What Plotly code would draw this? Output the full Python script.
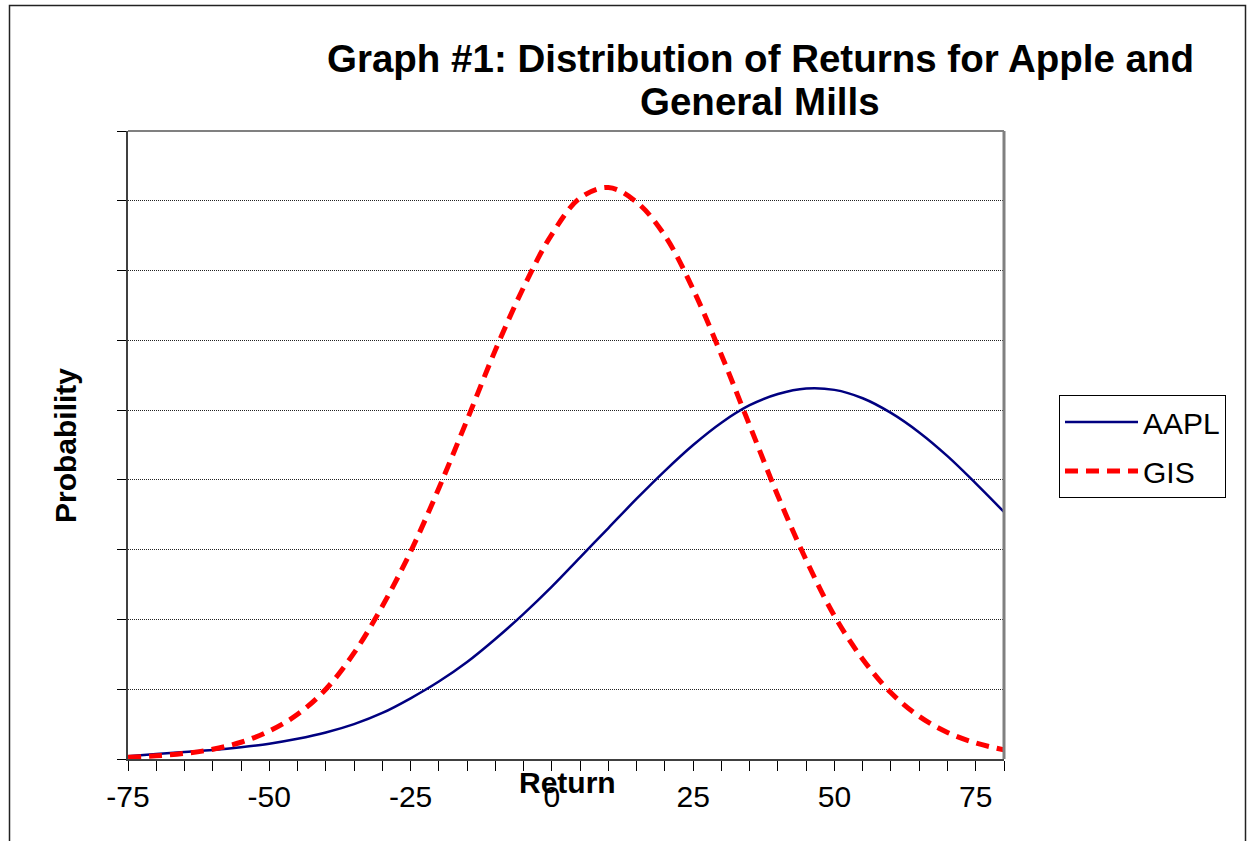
import plotly.graph_objects as go

# Return values (x axis)
returns = [-75, -70, -65, -60, -55, -50, -45, -40, -35, -30, -25, -20, -15, -10, -5, 0,
           5, 10, 15, 20, 25, 30, 35, 40, 45, 50, 55, 60, 65, 70, 75, 80]

# Probability (in gridline units)
aapl = [0.04, 0.07, 0.10, 0.13, 0.17, 0.22, 0.29, 0.38, 0.50, 0.66, 0.87, 1.11, 1.39, 1.72, 2.08, 2.47,
        2.89, 3.31, 3.73, 4.13, 4.50, 4.82, 5.07, 5.23, 5.31, 5.29, 5.17, 4.96, 4.68, 4.34, 3.95, 3.54]
gis = [0.025, 0.045, 0.08, 0.14, 0.24, 0.40, 0.64, 1.00, 1.52, 2.19, 2.97, 3.88, 4.86, 5.86, 6.76, 7.52,
       8.04, 8.19, 7.98, 7.50, 6.73, 5.79, 4.78, 3.77, 2.85, 2.05, 1.43, 0.95, 0.61, 0.38, 0.23, 0.13]

x_ticks = [-75, -50, -25, 0, 25, 50, 75]
x_tick_labels = ["-75", "-50", "-25", "0", "25", "50", "75"]

title_line1 = "Graph #1: Distribution of Returns for Apple and"
title_line2 = "General Mills"
x_title = "Return"
y_title = "Probability"

FONT = "Liberation Sans, Arial, sans-serif"

W, H = 1253, 841
L, R, T, B = 128, 1004, 131, 759


def px(xp):
    return (xp - L) / (R - L)


def py(yp):
    return (B - yp) / (B - T)


fig = go.Figure()
fig.add_trace(go.Scatter(
    x=returns, y=aapl, name="AAPL", mode="lines", legendgroup="a",
    line=dict(color="#000080", width=2.5, shape="spline", smoothing=1.0),
    hoverinfo="skip"))
fig.add_trace(go.Scatter(
    x=returns, y=gis, name="GIS", mode="lines", legendgroup="g",
    line=dict(color="#FF0000", width=5, dash="13px,8px", shape="spline", smoothing=1.0),
    hoverinfo="skip"))

fig.update_layout(
    width=W, height=H,
    margin=dict(l=L, r=W - R, t=T, b=H - B, pad=0),
    paper_bgcolor="white", plot_bgcolor="white",
    font=dict(family=FONT, color="black"),
    showlegend=True,
    legend=dict(
        x=px(1059), y=py(395), xanchor="left", yanchor="top",
        bordercolor="black", borderwidth=1, bgcolor="white",
        font=dict(family=FONT, size=30, color="black"),
        itemwidth=73, tracegroupgap=7,
    ),
    xaxis=dict(
        range=[-75, 80], tickmode="array", tickvals=x_ticks, ticktext=x_tick_labels,
        ticks="outside", ticklen=10, tickwidth=1, tickcolor="black",
        tickfont=dict(family=FONT, size=30, color="black"),
        minor=dict(dtick=5, tick0=-75, ticks="outside", ticklen=10, tickwidth=1, tickcolor="black",
                   showgrid=False),
        showline=True, linecolor="#404040", linewidth=2,
        showgrid=False, zeroline=False, fixedrange=True,
    ),
    yaxis=dict(
        range=[0, 9], tickmode="linear", tick0=0, dtick=1,
        showticklabels=False,
        ticks="outside", ticklen=9, tickwidth=1, tickcolor="black",
        showline=True, linecolor="#404040", linewidth=2,
        showgrid=True, gridcolor="#222222", gridwidth=1, griddash="1px,1px",
        zeroline=False, fixedrange=True,
    ),
    shapes=[
        # plot area top/right border
        dict(type="line", xref="paper", yref="paper", x0=0, x1=1, y0=1, y1=1,
             line=dict(color="#808080", width=2)),
        dict(type="line", xref="paper", yref="paper", x0=1, x1=1, y0=0, y1=1,
             line=dict(color="#808080", width=3)),
        # outer frame
        dict(type="rect", xref="paper", yref="paper",
             x0=px(9.5), x1=px(1245.5), y0=py(900), y1=py(5.5),
             line=dict(color="#222222", width=1.5), fillcolor="rgba(0,0,0,0)", layer="below"),
    ],
    annotations=[
        dict(text="<b>" + title_line1 + "</b>", xref="paper", yref="paper",
             x=px(760), y=py(58.5), xanchor="center", yanchor="middle", showarrow=False,
             font=dict(family=FONT, size=38.5, color="black")),
        dict(text="<b>" + title_line2 + "</b>", xref="paper", yref="paper",
             x=px(760), y=py(101.5), xanchor="center", yanchor="middle", showarrow=False,
             font=dict(family=FONT, size=38.5, color="black")),
        dict(text="<b>" + x_title + "</b>", xref="paper", yref="paper",
             x=px(567), y=py(782), xanchor="center", yanchor="middle", showarrow=False,
             font=dict(family=FONT, size=30, color="black")),
        dict(text="<b>" + y_title + "</b>", xref="paper", yref="paper",
             x=px(65), y=py(446), xanchor="center", yanchor="middle", showarrow=False,
             textangle=-90, font=dict(family=FONT, size=30, color="black")),
    ],
)

# remove the default page margin so the figure sits at the window's top-left corner
fig.write_html(
    "out.html",
    config={"displayModeBar": False},
    post_script="document.body.style.margin='0';document.body.style.overflow='hidden';",
)
